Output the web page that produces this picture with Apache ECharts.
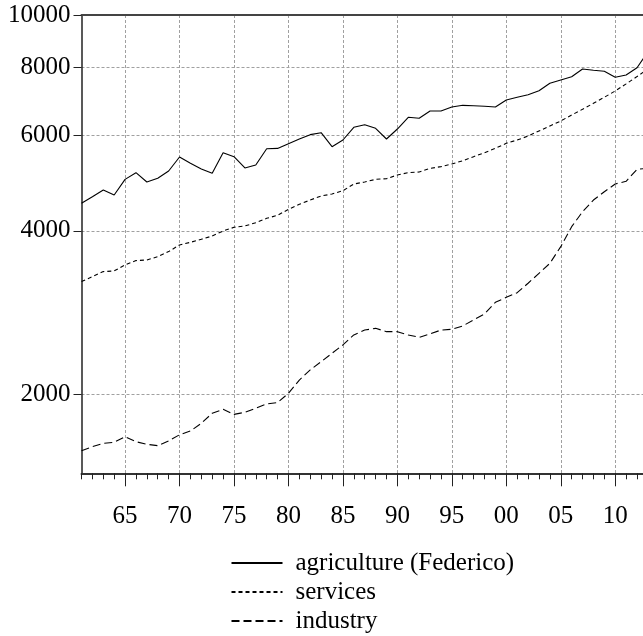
<!DOCTYPE html>
<html>
<head>
<meta charset="utf-8">
<script src="https://cdn.jsdelivr.net/npm/echarts@6/dist/echarts.min.js"></script>
<style>
  html, body { margin: 0; padding: 0; background: #fff; }
  #chart { width: 643px; height: 636px; }
</style>
</head>
<body>
<div id="chart"></div>
<script>
// Annual series, 1961-2013 (log scale)
const years = [];
for (let y = 1961; y <= 2013; y++) years.push(y);

const agriculture = [
  4495, 4622, 4755, 4656, 4976, 5119, 4920, 4998, 5156, 5471,
  5327, 5200, 5105, 5572, 5479, 5222, 5289, 5668, 5675, 5790,
  5906, 6016, 6067, 5717, 5881, 6207, 6276, 6180, 5906, 6162,
  6476, 6449, 6651, 6651, 6766, 6814, 6803, 6786, 6766, 6970,
  7051, 7129, 7251, 7482, 7587, 7694, 7950, 7907, 7874, 7675,
  7750, 7995, 8550
];
const services = [
  3223, 3292, 3363, 3373, 3459, 3524, 3533, 3584, 3661, 3766,
  3808, 3858, 3912, 3996, 4059, 4082, 4140, 4217, 4271, 4381,
  4475, 4558, 4636, 4676, 4742, 4879, 4920, 4976, 4990, 5069,
  5119, 5133, 5214, 5252, 5311, 5386, 5479, 5572, 5677, 5800,
  5881, 5981, 6110, 6241, 6375, 6540, 6700, 6872, 7051, 7243,
  7464, 7700, 7950
];
const industry = [
  1572, 1599, 1622, 1629, 1668, 1633, 1615, 1606, 1638, 1682,
  1709, 1766, 1843, 1874, 1834, 1850, 1882, 1917, 1928, 2006,
  2122, 2215, 2294, 2377, 2463, 2570, 2624, 2643, 2606, 2606,
  2570, 2544, 2581, 2624, 2632, 2670, 2739, 2809, 2952, 3015,
  3075, 3201, 3339, 3483, 3739, 4070, 4337, 4558, 4721, 4879,
  4935, 5193, 5213
];

const yTicks = [2000, 4000, 6000, 8000, 10000];
const xLabelYears = [1965, 1970, 1975, 1980, 1985, 1990, 1995, 2000, 2005, 2010];
const xMinorYears = years.slice(0, 52);

const seriesNames = ['agriculture (Federico)', 'services', 'industry'];

const FONT = '"Liberation Serif", "Times New Roman", serif';
const FONT_SIZE = 25;
const X_MIN = 1961, X_MAX = 2012.55;
const gridDash = { type: [3, 2], color: '#a0a0a0', width: 1 };

function pairs(vals) {
  return years.map((y, i) => [y, vals[i]]);
}

const chart = echarts.init(document.getElementById('chart'), null, { renderer: 'canvas' });

chart.setOption({
  animation: false,
  backgroundColor: '#fff',
  textStyle: { fontFamily: FONT },
  grid: { left: 81.5, right: 0, top: 15, bottom: 162.7, containLabel: false },
  legend: {
    orient: 'vertical',
    left: 230.5,
    top: 550.5,
    height: 85,
    padding: 0,
    itemWidth: 51,
    itemHeight: 25,
    itemGap: 4,
    selectedMode: false,
    data: seriesNames,
    itemStyle: { opacity: 0, borderWidth: 0 },
    textStyle: {
      fontFamily: FONT, fontSize: FONT_SIZE, color: '#000',
      lineHeight: 25, padding: [0, 0, 0, 8]
    }
  },
  xAxis: [
    {
      // yearly minor ticks and the axis line
      type: 'value', min: X_MIN, max: X_MAX, position: 'bottom',
      axisLine: { show: true, onZero: false, lineStyle: { color: '#333', width: 2 } },
      axisTick: { show: true, length: 6, customValues: xMinorYears, lineStyle: { color: '#222', width: 1 } },
      axisLabel: { show: false },
      splitLine: { show: false }
    },
    {
      // five-year ticks, labels and vertical grid
      type: 'value', min: X_MIN, max: X_MAX, position: 'bottom',
      axisLine: { show: false, onZero: false },
      axisTick: { show: true, length: 13, customValues: xLabelYears, lineStyle: { color: '#222', width: 1 } },
      axisLabel: {
        show: true, customValues: xLabelYears, margin: 31,
        fontFamily: FONT, fontSize: FONT_SIZE, color: '#000',
        formatter: v => String(Math.round(v) % 100).padStart(2, '0')
      },
      splitLine: { show: true, lineStyle: gridDash }
    },
    {
      // top frame
      type: 'value', min: X_MIN, max: X_MAX, position: 'top',
      axisLine: { show: true, onZero: false, lineStyle: { color: '#444', width: 2 } },
      axisTick: { show: false }, axisLabel: { show: false }, splitLine: { show: false }
    }
  ],
  yAxis: {
    type: 'log', logBase: 10, min: 1428, max: 10000,
    axisLine: { show: true, onZero: false, lineStyle: { color: '#222', width: 1.5 } },
    axisTick: { show: true, length: 8, customValues: yTicks, lineStyle: { color: '#222', width: 1 } },
    axisLabel: {
      show: true, customValues: yTicks, margin: 11,
      fontFamily: FONT, fontSize: FONT_SIZE, color: '#000',
      formatter: v => String(Math.round(v))
    },
    splitLine: { show: true, lineStyle: gridDash }
  },
  series: [
    {
      name: seriesNames[0], type: 'line', xAxisIndex: 0, data: pairs(agriculture),
      symbol: 'none', clip: true,
      lineStyle: { color: '#000', width: 1.1, type: 'solid' },
      itemStyle: { color: '#000' }
    },
    {
      name: seriesNames[1], type: 'line', xAxisIndex: 0, data: pairs(services),
      symbol: 'none', clip: true,
      lineStyle: { color: '#000', width: 1.1, type: [4, 3] },
      itemStyle: { color: '#000' }
    },
    {
      name: seriesNames[2], type: 'line', xAxisIndex: 0, data: pairs(industry),
      symbol: 'none', clip: true,
      lineStyle: { color: '#000', width: 1.1, type: [8, 4] },
      itemStyle: { color: '#000' }
    }
  ]
});
</script>
</body>
</html>
